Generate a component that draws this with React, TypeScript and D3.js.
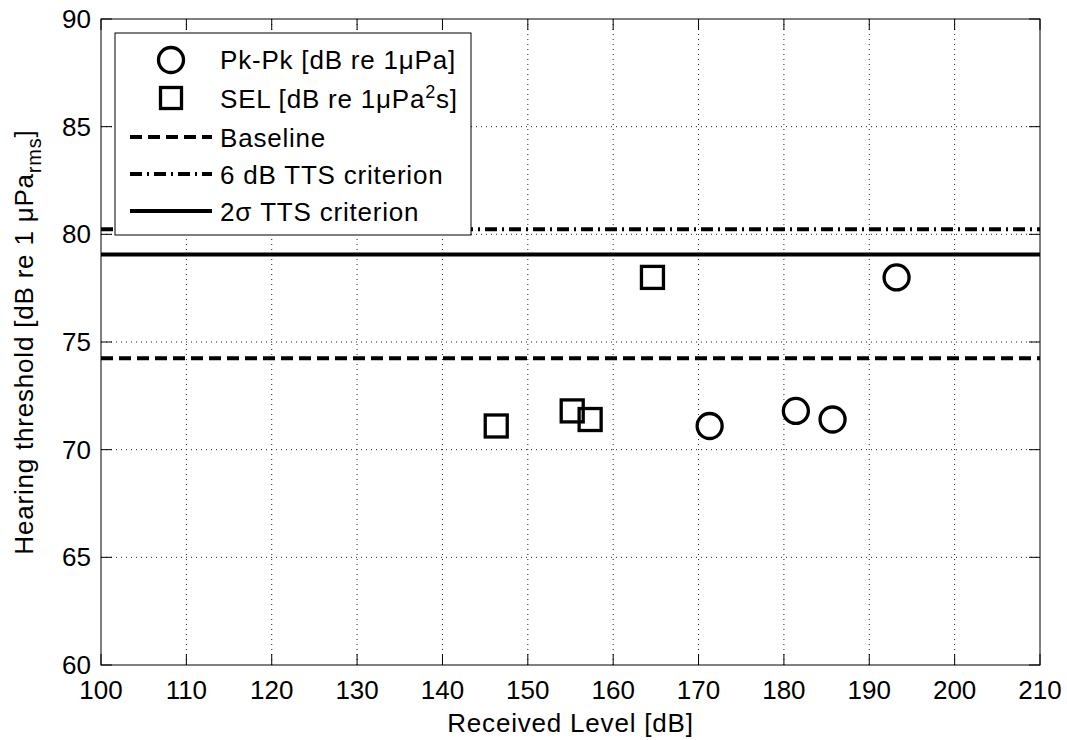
import React from "react";
import * as d3 from "d3";

const xTicks = [100, 110, 120, 130, 140, 150, 160, 170, 180, 190, 200, 210];
const yTicks = [60, 65, 70, 75, 80, 85, 90];
const pkX = [171.3, 181.4, 185.7, 193.2];
const pkY = [71.1, 71.8, 71.4, 78.0];
const selX = [146.3, 155.2, 157.3, 164.6];
const selY = [71.1, 71.8, 71.4, 78.0];
const baselineLevel = 74.25;
const tts6Level = 80.24;
const tts2sLevel = 79.06;

const W = 1067, H = 740;
const L = 101, R = 1040, T = 19, B = 665;
const FONT = "'Liberation Sans', Arial, Helvetica, sans-serif";
const FS = 26;
const LS = 0.8;

export default function App() {
  const x = d3.scaleLinear().domain([100, 210]).range([L, R]);
  const y = d3.scaleLinear().domain([60, 90]).range([B, T]);
  const circleR = 12.5;
  const sq = 22;
  const hLines = [
    { v: baselineLevel, dash: "12 6" },
    { v: tts6Level, dash: "12 5 2 5" },
    { v: tts2sLevel, dash: null as string | null },
  ];
  const legX0 = 115, legY0 = 33, legX1 = 471, legY1 = 235;
  const rows = [60, 98, 137, 174, 211];
  const mX = 171;
  const textX = 220;
  return (
    <div style={{ position: "absolute", left: 0, top: 0 }}>
      <svg width={W} height={H} style={{ display: "block", background: "#fff" }} fontFamily={FONT}>
        <rect x={0} y={0} width={W} height={H} fill="#fff" />
        {/* grid */}
        {xTicks.slice(1, -1).map((t) => (
          <line key={"gx" + t} x1={x(t)} x2={x(t)} y1={B} y2={T} stroke="#222" strokeWidth={1} strokeDasharray="1 4" />
        ))}
        {yTicks.slice(1, -1).map((t) => (
          <line key={"gy" + t} x1={L} x2={R} y1={y(t)} y2={y(t)} stroke="#222" strokeWidth={1} strokeDasharray="1 4" />
        ))}
        {/* ticks */}
        {xTicks.map((t) => (
          <g key={"tx" + t}>
            <line x1={x(t)} x2={x(t)} y1={B} y2={B - 11} stroke="#000" />
            <line x1={x(t)} x2={x(t)} y1={T} y2={T + 11} stroke="#000" />
            <text x={x(t)} y={699} fontSize={FS} textAnchor="middle">{t}</text>
          </g>
        ))}
        {yTicks.map((t) => (
          <g key={"ty" + t}>
            <line x1={L} x2={L + 11} y1={y(t)} y2={y(t)} stroke="#000" />
            <line x1={R} x2={R - 11} y1={y(t)} y2={y(t)} stroke="#000" />
            <text x={91} y={y(t) + 9} fontSize={FS} textAnchor="end">{t}</text>
          </g>
        ))}
        {/* horizontal criterion lines */}
        {hLines.map((h, i) => (
          <line key={"h" + i} x1={L} x2={R} y1={y(h.v)} y2={y(h.v)} stroke="#000" strokeWidth={4}
            strokeDasharray={h.dash ?? undefined} />
        ))}
        {/* markers */}
        {pkX.map((v, i) => (
          <circle key={"pk" + i} cx={x(v)} cy={y(pkY[i])} r={circleR} fill="none" stroke="#000" strokeWidth={3.3} />
        ))}
        {selX.map((v, i) => (
          <rect key={"sel" + i} x={x(v) - sq / 2} y={y(selY[i]) - sq / 2} width={sq} height={sq} fill="none" stroke="#000" strokeWidth={3.3} />
        ))}
        {/* axes box */}
        <rect x={L} y={T} width={R - L} height={B - T} fill="none" stroke="#000" strokeWidth={1} />
        {/* legend */}
        <rect x={legX0} y={legY0} width={legX1 - legX0} height={legY1 - legY0} fill="#fff" stroke="#000" strokeWidth={1} />
        <circle cx={mX} cy={rows[0]} r={circleR} fill="none" stroke="#000" strokeWidth={3.3} />
        <rect x={mX - 10.5} y={rows[1] - 10.5} width={21} height={21} fill="none" stroke="#000" strokeWidth={3.3} />
        <line x1={130} x2={212} y1={rows[2]} y2={rows[2]} stroke="#000" strokeWidth={4} strokeDasharray="12 6" />
        <line x1={130} x2={212} y1={rows[3]} y2={rows[3]} stroke="#000" strokeWidth={4} strokeDasharray="12 5 2 5" />
        <line x1={130} x2={212} y1={rows[4]} y2={rows[4]} stroke="#000" strokeWidth={4} />
        <g fontSize={FS} letterSpacing={LS}>
          <text x={textX} y={rows[0] + 9}>Pk-Pk [dB re 1μPa]</text>
          <text x={textX} y={rows[1] + 10}>
            SEL [dB re 1μPa<tspan dy={-10} fontSize={18}>2</tspan><tspan dy={10}>s]</tspan>
          </text>
          <text x={textX} y={rows[2] + 10}>Baseline</text>
          <text x={textX} y={rows[3] + 10}>6 dB TTS criterion</text>
          <text x={textX} y={rows[4] + 10}>2σ TTS criterion</text>
          {/* axis labels */}
          <text x={(L + R) / 2} y={732} textAnchor="middle">Received Level [dB]</text>
          <text transform={`translate(33, ${(T + B) / 2}) rotate(-90)`} textAnchor="middle">
            Hearing threshold [dB re 1 μPa<tspan dy={8} fontSize={20}>rms</tspan><tspan dy={-8}>]</tspan>
          </text>
        </g>
      </svg>
    </div>
  );
}
